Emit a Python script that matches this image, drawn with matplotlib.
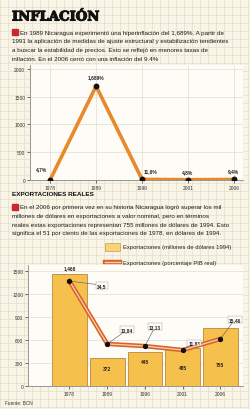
import matplotlib
matplotlib.use("Agg")
import matplotlib.pyplot as plt
import matplotlib.patheffects as pe
import numpy as np

plt.rcParams['font.family'] = ['Liberation Sans', 'DejaVu Sans']

# datos inflacion
anios_inf = ['1978', '1989', '1996', '2001', '2006']
inflacion = [4.7, 1689.0, 11.6, 4.8, 9.4]
etiquetas_inf = ['4,7%', '1,689%', '11,6%', '4,8%', '9,4%']

# datos exportaciones
anios_exp = ['1978', '1989', '1996', '2001', '2006']
export_mill = [1468, 372, 445, 495, 755]
export_pib = [34.5, 13.84, 13.13, 11.83, 15.46]
etiquetas_mill = ['1,468', '372', '445', '495', '755']
etiquetas_pib = ['34,5', '13,84', '13,13', '11,83', '15,46']

texto_inf = [
    "En 1989 Nicaragua experimentó una hiperinflación del 1,689%. A partir de",
    "1991 la aplicación de medidas de ajuste estructural y estabilización tendientes",
    "a buscar la estabilidad de precios. Esto se reflejó en menores tasas de",
    "inflación. En el 2006 cerró con una inflación del 9.4%",
]
texto_exp = [
    "En el 2006 por primera vez en su historia Nicaragua logró superar los mil",
    "millones de dólares en exportaciones a valor nominal, pero en términos",
    "reales estas exportaciones representan 755 millones de dólares de 1994. Esto",
    "significa el 51 por ciento de las exportaciones de 1978, en dólares de 1994.",
]

W, H = 250, 410
fig = plt.figure(figsize=(2.5, 4.1), dpi=100)
fig.patch.set_facecolor('#F9F5E6')

def fx(px):
    return px / W

def fy(py):
    return 1 - py / H

# papel cuadriculado de fondo
bg = fig.add_axes([0, 0, 1, 1], zorder=-5)
bg.set_xlim(0, W)
bg.set_ylim(H, 0)
bg.set_facecolor('#F9F5E6')
for g in np.arange(0, W, 8):
    bg.axvline(g, color='#E3DECD', lw=0.5)
for g in np.arange(0, H, 8):
    bg.axhline(g, color='#E3DECD', lw=0.5)
bg.axis('off')

# encabezado inflacion
fig.text(fx(12), fy(18), 'INFLACIÓN', family='DejaVu Serif', weight='bold',
         fontsize=9.5, va='center', ha='left', color='#111111',
         path_effects=[pe.withStroke(linewidth=0.8, foreground='#111111')])
for i, linea in enumerate(texto_inf):
    x0 = 20 if i == 0 else 12
    fig.text(fx(x0), fy(33 + i * 8.7), linea, fontsize=4.5, va='center', color='#1A1A1A')
fig.patches.append(plt.Rectangle((fx(12), fy(36)), fx(6), 6 / H, transform=fig.transFigure,
                                 color='#C8282E', figure=fig))

# grafico inflacion
ax1 = fig.add_axes([fx(30), fy(181), fx(213), 115 / H])
ax1.set_facecolor('#FDFCF6')
x1 = np.arange(len(anios_inf))
ax1.plot(x1, inflacion, color='#E8892C', lw=2.6, zorder=3, solid_capstyle='round')
ax1.plot(x1, inflacion, 'o', color='#111111', ms=3.2, zorder=4)
ax1.set_xlim(-0.44, 4.2)
ax1.set_ylim(0, 2070)
ax1.set_yticks([0, 500, 1000, 1500, 2000])
ax1.set_xticks(x1)
ax1.set_xticklabels(anios_inf)
ax1.tick_params(labelsize=3.5, length=2, width=0.5, pad=1.5, colors='#333333')
ax1.grid(True, color='#E2DDCD', lw=0.5)
for s in ['top', 'right']:
    ax1.spines[s].set_visible(False)
for s in ['left', 'bottom']:
    ax1.spines[s].set_color('#888888')
    ax1.spines[s].set_linewidth(0.6)
offs = [(-6, 7), (0, 6), (6, 5), (0, 5), (0, 5)]
for i, (v, t) in enumerate(zip(inflacion, etiquetas_inf)):
    ax1.annotate(t, (x1[i], v), xytext=offs[i], textcoords='offset points',
                 ha='center', fontsize=3.5, weight='bold', color='#222222')

# encabezado exportaciones
fig.text(fx(12), fy(195), 'EXPORTACIONES REALES', weight='bold', fontsize=4.6,
         va='center', color='#111111')
for i, linea in enumerate(texto_exp):
    x0 = 20 if i == 0 else 12
    fig.text(fx(x0), fy(208 + i * 8.5), linea, fontsize=4.5, va='center', color='#1A1A1A')
fig.patches.append(plt.Rectangle((fx(12), fy(211)), fx(6), 6 / H, transform=fig.transFigure,
                                 color='#C8282E', figure=fig))

# leyenda
fig.patches.append(plt.Rectangle((fx(105), fy(252)), fx(15), 8 / H, transform=fig.transFigure,
                                 facecolor='#F8D37A', edgecolor='#C99A4A', lw=0.5, figure=fig))
fig.text(fx(123), fy(248), 'Exportaciones (millones de dólares 1994)', fontsize=4.2,
         va='center', color='#222222')
fig.lines.append(plt.Line2D([fx(105), fx(120)], [fy(263), fy(263)], transform=fig.transFigure,
                            color='#D9622B', lw=3.2, figure=fig))
fig.lines.append(plt.Line2D([fx(105), fx(120)], [fy(263), fy(263)], transform=fig.transFigure,
                            color='#F8D0B0', lw=1.0, figure=fig))
fig.text(fx(123), fy(263), 'Exportaciones (porcentaje PIB real)', fontsize=4.2,
         va='center', color='#222222')

# grafico exportaciones
ax2 = fig.add_axes([fx(28), fy(387), fx(215), 121 / H])
ax2.set_facecolor('#FDFCF6')
x2 = np.arange(len(anios_exp))
ax2.bar(x2, export_mill, width=0.92, color='#F6C04C', edgecolor='#C39350', lw=0.7, zorder=2)
ax2.set_xlim(-1.1, 4.6)
ax2.set_ylim(0, 1580)
ax2.set_yticks([0, 300, 600, 900, 1200, 1500])
ax2.set_xticks(x2)
ax2.set_xticklabels(anios_exp)
ax2.tick_params(labelsize=3.5, length=2, width=0.5, pad=1.5, colors='#333333')
ax2.grid(True, axis='y', color='#E2DDCD', lw=0.5, zorder=0)
ax2.set_axisbelow(True)
for s in ['top', 'right']:
    ax2.spines[s].set_visible(False)
for s in ['left', 'bottom']:
    ax2.spines[s].set_color('#888888')
    ax2.spines[s].set_linewidth(0.6)
boffs = [3, -9, -8, -15, -27]
for i, (v, t) in enumerate(zip(export_mill, etiquetas_mill)):
    ax2.annotate(t, (x2[i], v), xytext=(0, boffs[i]), textcoords='offset points',
                 ha='center', fontsize=3.5, weight='bold', color='#222222')

ax3 = ax2.twinx()
ax3.set_ylim(0, 1580 / 39.7)
ax3.plot(x2, export_pib, color='#D9622B', lw=3.2, zorder=3)
ax3.plot(x2, export_pib, color='#F8D0B0', lw=0.9, zorder=4)
ax3.plot(x2, export_pib, 'o', color='#111111', ms=2.8, zorder=5)
ax3.set_yticks([])
for s in ax3.spines.values():
    s.set_visible(False)
poffs = [(20, -4), (10, 9), (3, 13), (4, 4), (6, 13)]
for i, (v, t) in enumerate(zip(export_pib, etiquetas_pib)):
    ax3.annotate(t, (x2[i], v), xytext=poffs[i], textcoords='offset points',
                 ha='left', fontsize=3.4, weight='bold', color='#222222',
                 arrowprops=dict(arrowstyle='-', color='#555555', lw=0.4,
                                 shrinkA=0, shrinkB=0),
                 bbox=dict(boxstyle='square,pad=0.2', fc='#FDFCF6', ec='#999999', lw=0.3))

fig.text(fx(5), fy(404), 'Fuente: BCN', fontsize=3.4, va='center', color='#333333')

fig.savefig('out.png', dpi=100, facecolor=fig.get_facecolor())
